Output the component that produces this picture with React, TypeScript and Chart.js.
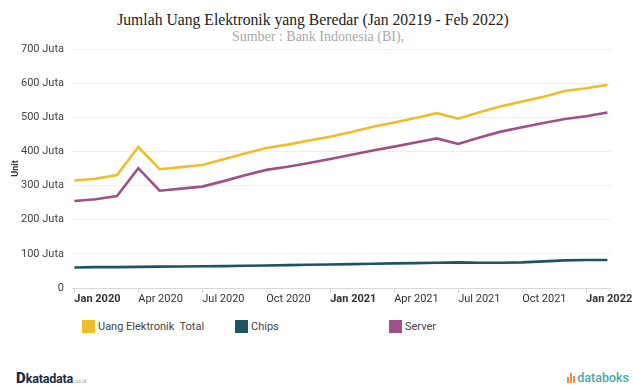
import React, { useEffect, useRef } from "react";
import { Chart, registerables } from "chart.js";

Chart.register(...registerables);

const months = [
  "Jan 2020", "Feb 2020", "Mar 2020", "Apr 2020", "May 2020", "Jun 2020",
  "Jul 2020", "Aug 2020", "Sep 2020", "Oct 2020", "Nov 2020", "Dec 2020",
  "Jan 2021", "Feb 2021", "Mar 2021", "Apr 2021", "May 2021", "Jun 2021",
  "Jul 2021", "Aug 2021", "Sep 2021", "Oct 2021", "Nov 2021", "Dec 2021",
  "Jan 2022", "Feb 2022",
];

const totalValues = [
  315, 320, 331, 413, 348, 354, 360, 377, 394, 410, 420, 432,
  443, 457, 472, 485, 498, 512, 496, 515, 532, 546, 560, 577, 585, 595,
];

const chipsValues = [
  60, 61, 61, 62, 62.5, 63, 63.5, 64, 65, 66, 67, 68,
  69, 70, 71, 72, 73, 74, 75, 74, 74, 75, 78, 81, 82, 82,
];

const serverValues = [
  255, 260, 269, 351, 285, 291, 297, 313, 330, 346, 355, 366,
  378, 390, 403, 414, 426, 438, 422, 441, 458, 471, 483, 495, 503, 514,
];

const tickLabels = [
  "Jan 2020", "Apr 2020", "Jul 2020", "Oct 2020", "Jan 2021",
  "Apr 2021", "Jul 2021", "Oct 2021", "Jan 2022",
];

const seriesNames = ["Uang Elektronik  Total", "Chips", "Server"];
const seriesColors = ["#EFBD2C", "#1C5562", "#A04F89"];

export default function App() {
  const canvasRef = useRef<HTMLCanvasElement | null>(null);

  useEffect(() => {
    if (!canvasRef.current) return;
    const toPts = (arr: number[]) => arr.map((v, i) => ({ x: i, y: v }));
    const seriesData = [totalValues, chipsValues, serverValues];
    const tickIndex = tickLabels.map((lbl) => months.indexOf(lbl));
    const chart = new Chart(canvasRef.current, {
      type: "line",
      data: {
        datasets: seriesData.map((arr, k) => ({
          label: seriesNames[k],
          data: toPts(arr),
          borderColor: seriesColors[k],
          backgroundColor: seriesColors[k],
          borderWidth: 2.6,
          pointRadius: 0,
          tension: 0,
          fill: false,
        })),
      },
      options: {
        responsive: false,
        animation: false,
        devicePixelRatio: 1,
        layout: { padding: { top: 49, right: 16, left: 0, bottom: 0 } },
        plugins: {
          legend: { display: false },
          tooltip: { enabled: false },
          title: { display: false },
        },
        scales: {
          x: {
            type: "linear",
            min: -0.11,
            max: 25.14,
            afterBuildTicks: (s: any) => {
              s.ticks = tickIndex.map((i) => ({ value: i }));
            },
            afterFit: (s: any) => {
              s.height = 22;
            },
            ticks: {
              autoSkip: false,
              maxRotation: 0,
              minRotation: 0,
              align: "start",
              padding: 0,
              color: "#333",
              font: (ctx: any) => ({
                family: "Roboto",
                size: 11,
                weight: ctx.index % 4 === 0 ? "bold" : "normal",
              }),
              callback: (_v: any, idx: number) => tickLabels[idx],
            },
            grid: {
              drawOnChartArea: false,
              drawTicks: true,
              tickLength: 5,
              color: "#dcdcdc",
            },
            border: { display: true, color: "#d8d8d8" },
          },
          y: {
            min: 0,
            max: 700,
            afterFit: (s: any) => {
              s.width = 72;
            },
            ticks: {
              stepSize: 100,
              padding: 8,
              color: "#444",
              font: { family: "Roboto", size: 11 },
              callback: (v: any) => (v === 0 ? "0" : v + " Juta"),
            },
            grid: { drawTicks: false, color: "#eeeeee" },
            border: { display: false },
            title: {
              display: true,
              text: "Unit",
              color: "#333",
              font: { family: "Roboto", size: 9, weight: "bold" },
              padding: { top: 10, bottom: 0 },
            },
          },
        },
      },
    });
    return () => chart.destroy();
  }, []);

  return (
    <div
      style={{
        position: "absolute",
        left: 0,
        top: 0,
        width: 633,
        height: 385,
        background: "#fff",
        overflow: "hidden",
        fontFamily: "Roboto, sans-serif",
      }}
    >
      <div
        style={{
          position: "absolute",
          top: 10,
          left: 0,
          width: 626,
          textAlign: "center",
          fontFamily: "'Liberation Serif', serif",
          fontSize: 15.7,
          color: "#222",
          whiteSpace: "nowrap",
          lineHeight: "20px",
        }}
      >
        Jumlah Uang Elektronik yang Beredar (Jan 20219 - Feb 2022)
      </div>
      <div
        style={{
          position: "absolute",
          top: 28,
          left: 0,
          width: 636,
          textAlign: "center",
          fontFamily: "'Liberation Serif', serif",
          fontSize: 14,
          color: "#aaa",
          whiteSpace: "nowrap",
          lineHeight: "18px",
        }}
      >
        Sumber : Bank Indonesia (BI),
      </div>
      <canvas
        ref={canvasRef}
        width={633}
        height={310}
        style={{ position: "absolute", left: 0, top: 0, display: "block" }}
      />
      {seriesNames.map((name, k) => (
        <div
          key={name}
          style={{
            position: "absolute",
            top: 320,
            left: [82, 235, 389][k],
            display: "flex",
            alignItems: "center",
            fontSize: 11,
            color: "#444",
            whiteSpace: "pre",
          }}
        >
          <span
            style={{
              display: "inline-block",
              width: 13,
              height: 13,
              background: seriesColors[k],
              marginRight: 3,
            }}
          />
          <span>{name}</span>
        </div>
      ))}
      <div
        style={{
          position: "absolute",
          left: 16,
          top: 369,
          display: "flex",
          alignItems: "baseline",
          color: "#1b2a47",
          whiteSpace: "nowrap",
        }}
      >
        <span style={{ fontWeight: 900, fontSize: 15, fontFamily: "Roboto" }}>D</span>
        <span style={{ fontWeight: 700, fontSize: 12.5, fontFamily: "Roboto", letterSpacing: -0.2 }}>katadata</span>
        <span style={{ fontSize: 5, color: "#999", marginLeft: 1 }}>.co.id</span>
      </div>
      <div
        style={{
          position: "absolute",
          right: 4,
          top: 370,
          display: "flex",
          alignItems: "center",
          whiteSpace: "nowrap",
        }}
      >
        <span style={{ display: "inline-flex", alignItems: "flex-end", height: 10, marginRight: 2 }}>
          <span style={{ width: 2, height: 6, background: "#f08a3c", marginRight: 1 }} />
          <span style={{ width: 2, height: 10, background: "#f08a3c", marginRight: 1 }} />
          <span style={{ width: 2, height: 7, background: "#f08a3c" }} />
        </span>
        <span style={{ fontSize: 12.5, fontWeight: 500, color: "#4aa7a7", fontFamily: "Roboto" }}>databoks</span>
      </div>
    </div>
  );
}
